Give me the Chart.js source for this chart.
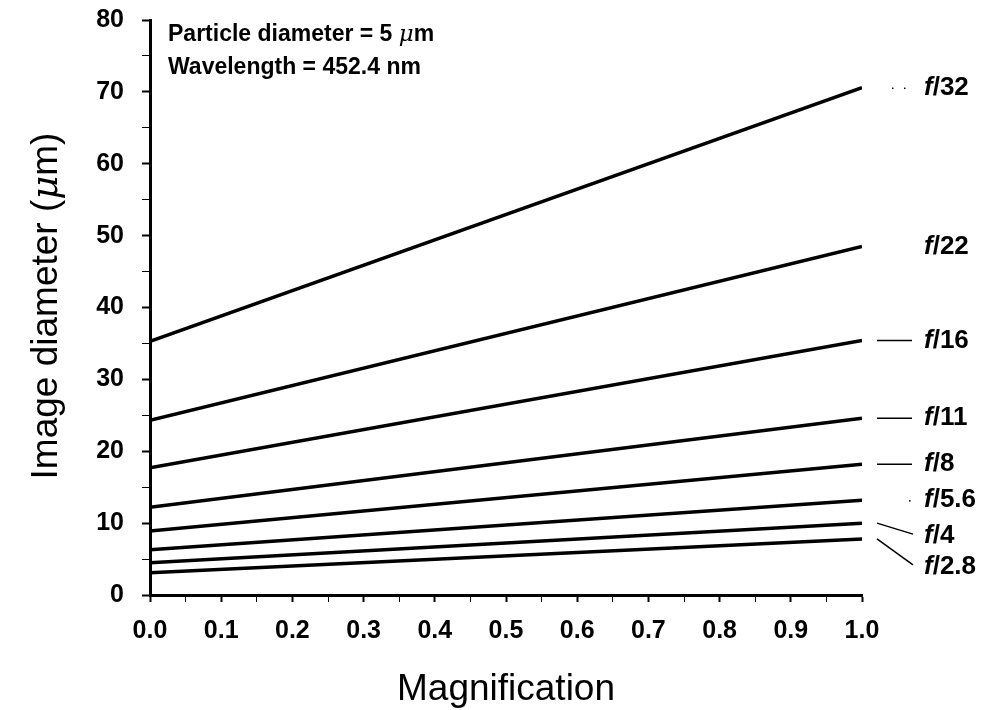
<!DOCTYPE html>
<html>
<head>
<meta charset="utf-8">
<script src="https://cdn.jsdelivr.net/npm/chart.js@4.4.1/dist/chart.umd.min.js"></script>
<style>
  html, body { margin: 0; padding: 0; background: #fff; }
  #wrap { width: 991px; height: 710px; }
</style>
</head>
<body>
<div id="wrap"><canvas id="myChart" width="991" height="710"></canvas></div>
<script>
const ctx = document.getElementById('myChart');

// values
const magnification = [0.0, 1.0];
const fNumbers = ['32', '22', '16', '11', '8', '5.6', '4', '2.8'];
const diameterAtM0 = [35.3, 24.3, 17.7, 12.2, 8.9, 6.3, 4.5, 3.1];
const diameterAtM1 = [70.6, 48.5, 35.4, 24.6, 18.2, 13.2, 10.0, 7.8];
const xTicks = [0.0, 0.1, 0.2, 0.3, 0.4, 0.5, 0.6, 0.7, 0.8, 0.9, 1.0];
const yTicks = [0, 10, 20, 30, 40, 50, 60, 70, 80];

const FONT = '"Liberation Sans", Arial, Helvetica, sans-serif';

const datasets = fNumbers.map((f, i) => ({
    label: 'f/' + f,
    data: magnification.map((m, j) => ({ x: m, y: j === 0 ? diameterAtM0[i] : diameterAtM1[i] })),
    borderColor: '#000',
    borderWidth: 3.5,
    pointRadius: 0,
    fill: false,
    tension: 0
}));

// how each right-hand label is tied to its line
const labelStyle = {
    '32':  { dy: 0,  leader: 'dots' },
    '22':  { dy: 0,  leader: 'none' },
    '16':  { dy: 0,  leader: 'line' },
    '11':  { dy: 0,  leader: 'line' },
    '8':   { dy: 0,  leader: 'line' },
    '5.6': { dy: 0,  leader: 'dot' },
    '4':   { dy: 13, leader: 'slant' },
    '2.8': { dy: 28, leader: 'slant' }
};

const annotations = {
    id: 'annotations',
    afterDraw(chart) {
        const c = chart.ctx;
        const area = chart.chartArea;
        const ys = chart.scales.y;
        c.save();
        c.fillStyle = '#000';
        c.strokeStyle = '#000';

        // in-plot note
        c.textBaseline = 'middle';
        c.textAlign = 'left';
        drawRuns(c, area.left + 18, area.top + 15, [
            ['bold 23px ' + FONT, 'Particle diameter = 5 '],
            ['italic 23px "DejaVu Serif", serif', 'μ'],
            ['bold 23px ' + FONT, 'm']
        ]);
        drawRuns(c, area.left + 18, area.top + 48, [
            ['bold 23px ' + FONT, 'Wavelength = 452.4 nm']
        ]);

        // f-number labels on the right
        fNumbers.forEach((f, i) => {
            const st = labelStyle[f];
            const yLine = ys.getPixelForValue(diameterAtM1[i]);
            const yText = yLine + st.dy;
            const xText = area.right + 62;
            drawRuns(c, xText, yText, [
                ['italic bold 26px ' + FONT, 'f'],
                ['bold 26px ' + FONT, '/' + f]
            ]);
            c.lineWidth = 1.5;
            c.beginPath();
            if (st.leader === 'line') {
                c.moveTo(area.right + 15, yLine);
                c.lineTo(area.right + 50, yLine);
            } else if (st.leader === 'slant') {
                c.moveTo(area.right + 15, yLine);
                c.lineTo(area.right + 51, yText - 2);
            }
            c.stroke();
            if (st.leader === 'dots') {
                c.fillRect(area.right + 30, yLine, 1.5, 1.5);
                c.fillRect(area.right + 42, yLine, 1.5, 1.5);
            } else if (st.leader === 'dot') {
                c.fillRect(area.right + 47, yLine, 1.5, 1.5);
            }
        });

        // axis titles
        c.textAlign = 'center';
        c.textBaseline = 'middle';
        c.font = '37px ' + FONT;
        c.fillText('Magnification', (area.left + area.right) / 2, 690);

        c.translate(47, 306);
        c.rotate(-Math.PI / 2);
        const runs = [
            ['37px ' + FONT, 'Image diameter ('],
            ['italic 37px "DejaVu Serif", serif', 'μ'],
            ['37px ' + FONT, 'm)']
        ];
        let w = 0;
        runs.forEach(r => { c.font = r[0]; w += c.measureText(r[1]).width; });
        c.textAlign = 'left';
        drawRuns(c, -w / 2, 0, runs);
        c.restore();
    }
};

function drawRuns(c, x, y, runs) {
    runs.forEach(r => {
        c.font = r[0];
        c.fillText(r[1], x, y);
        x += c.measureText(r[1]).width;
    });
}

function withMinor(major) {
    const t = [];
    major.forEach((v, i) => {
        t.push({ value: v });
        if (i < major.length - 1) t.push({ value: (v + major[i + 1]) / 2, minor: true });
    });
    return t;
}

const config = {
    type: 'line',
    data: { datasets: datasets },
    options: {
        responsive: false,
        animation: false,
        layout: { padding: { top: 20, right: 129, left: 0, bottom: 0 } },
        plugins: {
            legend: { display: false },
            tooltip: { enabled: false }
        },
        scales: {
            x: {
                type: 'linear',
                min: 0,
                max: 1,
                afterFit(scale) {
                    scale.height = 115;
                    scale.paddingLeft = 0;
                    scale.paddingRight = 0;
                },
                afterBuildTicks(scale) { scale.ticks = withMinor(xTicks); },
                grid: {
                    drawOnChartArea: false,
                    drawTicks: true,
                    tickLength: 7,
                    tickColor: '#000',
                    tickWidth: (c) => c.tick && c.tick.minor ? 1 : 2
                },
                border: { display: true, color: '#000', width: 3 },
                ticks: {
                    color: '#000',
                    padding: 14,
                    maxRotation: 0,
                    autoSkip: false,
                    font: { family: FONT, size: 25, weight: 'bold' },
                    callback: function (v, i, ticks) {
                        return ticks[i].minor ? '' : v.toFixed(1);
                    }
                }
            },
            y: {
                type: 'linear',
                min: 0,
                max: 80,
                afterFit(scale) {
                    scale.width = 150;
                    scale.paddingTop = 0;
                    scale.paddingBottom = 0;
                },
                afterBuildTicks(scale) { scale.ticks = withMinor(yTicks); },
                grid: {
                    drawOnChartArea: false,
                    drawTicks: true,
                    tickLength: 8,
                    tickColor: '#000',
                    tickWidth: (c) => c.tick && c.tick.minor ? 1 : 2
                },
                border: { display: true, color: '#000', width: 3 },
                ticks: {
                    color: '#000',
                    padding: 18,
                    autoSkip: false,
                    font: { family: FONT, size: 25, weight: 'bold' },
                    callback: function (v, i, ticks) {
                        return ticks[i].minor ? '' : String(v);
                    }
                }
            }
        }
    },
    plugins: [annotations]
};

const chart = new Chart(ctx, config);
</script>
</body>
</html>
